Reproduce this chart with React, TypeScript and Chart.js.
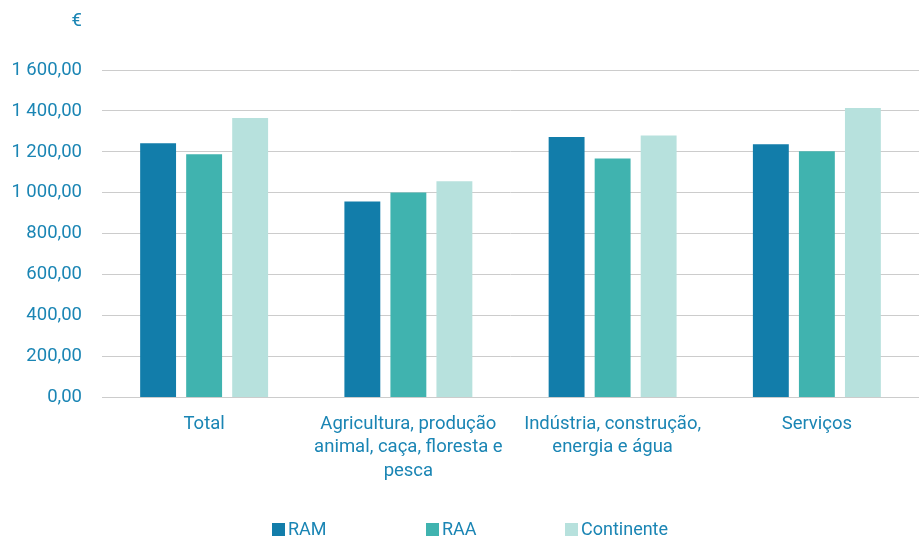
import React, { useEffect, useRef } from "react";
import { Chart, registerables } from "chart.js";

Chart.register(...registerables);

const categories: (string | string[])[] = [
  "Total",
  ["Agricultura, produção", "animal, caça, floresta e", "pesca"],
  ["Indústria, construção,", "energia e água"],
  "Serviços",
];
const ramValues = [1242, 958, 1273, 1237];
const raaValues = [1188, 1002, 1168, 1203];
const continenteValues = [1366, 1057, 1280, 1414];
const seriesNames = ["RAM", "RAA", "Continente"];
const seriesColors = ["#127daa", "#40b3af", "#b7e1dd"];
const unitLabel = "€";

const TEXT = "#1a85b4";
const FONT = "Roboto";
const LEGEND_X = [272, 426, 565];
const LEGEND_Y = 529.5;
const LEGEND_BOX = 13;

function fmt(v: number): string {
  const fixed = v.toFixed(2);
  const [intPart, dec] = fixed.split(".");
  const withSep = intPart.replace(/\B(?=(\d{3})+(?!\d))/g, " ");
  return withSep + "," + dec;
}

export default function App() {
  const ref = useRef<HTMLCanvasElement | null>(null);
  useEffect(() => {
    if (!ref.current) return;
    const extrasPlugin = {
      id: "extrasPlugin",
      afterDraw(chart: any) {
        const ctx = chart.ctx;
        const y = chart.scales.y;
        ctx.save();
        ctx.font = `18.5px ${FONT}`;
        ctx.fillStyle = TEXT;
        ctx.textAlign = "right";
        ctx.textBaseline = "middle";
        ctx.fillText(unitLabel, y.right - 20, 21);
        // legend
        ctx.font = `18px ${FONT}`;
        ctx.textAlign = "left";
        chart.data.datasets.forEach((ds: any, i: number) => {
          const x = LEGEND_X[i];
          ctx.fillStyle = ds.backgroundColor;
          ctx.fillRect(x, LEGEND_Y - LEGEND_BOX / 2, LEGEND_BOX, LEGEND_BOX);
          ctx.fillStyle = TEXT;
          ctx.fillText(ds.label, x + LEGEND_BOX + 3, LEGEND_Y + 1);
        });
        ctx.restore();
      },
    };
    const chart = new Chart(ref.current, {
      type: "bar",
      data: {
        labels: categories,
        datasets: [
          { label: seriesNames[0], data: ramValues, backgroundColor: seriesColors[0] },
          { label: seriesNames[1], data: raaValues, backgroundColor: seriesColors[1] },
          { label: seriesNames[2], data: continenteValues, backgroundColor: seriesColors[2] },
        ],
      },
      options: {
        animation: false,
        responsive: false,
        maintainAspectRatio: false,
        layout: { padding: { top: 70, right: 0, left: 0, bottom: 39 } },
        datasets: { bar: { categoryPercentage: 0.676, barPercentage: 0.78 } },
        plugins: {
          tooltip: { enabled: false },
          legend: { display: false },
        },
        scales: {
          x: {
            grid: { display: false, drawTicks: false },
            border: { display: true, color: "#cccccc" },
            ticks: {
              color: TEXT,
              font: { family: FONT, size: 18.5, lineHeight: 1.27 },
              padding: 15,
              maxRotation: 0,
              autoSkip: false,
            },
          },
          y: {
            min: 0,
            max: 1600,
            afterFit: (scale: any) => {
              scale.width = 102;
            },
            grid: { color: "#cccccc", drawTicks: false, lineWidth: 1 },
            border: { display: false },
            ticks: {
              stepSize: 200,
              color: TEXT,
              font: { family: FONT, size: 18.5 },
              padding: 20,
              callback: (v: any) => fmt(Number(v)),
            },
          },
        },
      },
      plugins: [extrasPlugin],
    } as any);
    return () => chart.destroy();
  }, []);
  return (
    <div style={{ position: "fixed", left: 0, top: 0, width: 919, height: 537, background: "#fff" }}>
      <canvas ref={ref} width={919} height={537} style={{ width: 919, height: 537 }} />
    </div>
  );
}
